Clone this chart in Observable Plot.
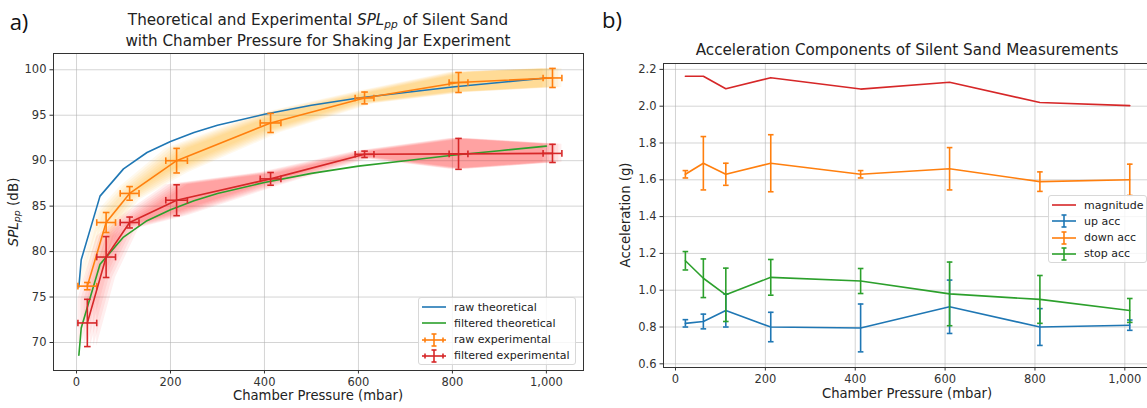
<!DOCTYPE html>
<html>
<head>
<meta charset="utf-8">
<script src="https://cdn.jsdelivr.net/npm/d3@7"></script>
<script src="https://cdn.jsdelivr.net/npm/@observablehq/plot@0.6"></script>
<style>
  html, body { margin: 0; padding: 0; background: #fff; }
  body { width: 1147px; height: 408px; overflow: hidden; position: relative;
         font-family: "DejaVu Sans", sans-serif; color: #222; }
  .abs { position: absolute; white-space: nowrap; line-height: 1; }
  .c { transform: translate(-50%, -50%); }
  .rot { transform: translate(-50%, -50%) rotate(-90deg); }
  .legend { position: absolute; background: rgba(255,255,255,0.8); border: 1px solid #d8d8d8;
            border-radius: 3px; box-sizing: border-box; }
  .legend .row { position: absolute; left: 0; display: flex; align-items: center; font-size: 11px; color: #222; white-space: nowrap; }
  .legend svg { display: block; }
  sub { font-size: 0.7em; vertical-align: -0.25em; }
</style>
</head>
<body>
<script>
// ---- SPL_pp vs chamber pressure (panel a) ----
const pressureTheory = [5, 10, 50, 100, 150, 200, 250, 300, 400, 500, 600, 700, 800, 900, 1000];
const rawTheory      = [76.1, 79.1, 86.1, 89.1, 90.9, 92.1, 93.1, 93.9, 95.1, 96.1, 96.9, 97.5, 98.1, 98.6, 99.1];
const filteredTheory = [68.6, 71.6, 78.6, 81.6, 83.4, 84.6, 85.6, 86.4, 87.6, 88.6, 89.4, 90.0, 90.6, 91.1, 91.6];

const pressureExp    = [23, 63, 113, 213, 413, 613, 813, 1013];
const pressureErr    = [20, 20, 20, 23, 22, 20, 20, 20];
const rawExp         = [76.2, 83.2, 86.4, 90.0, 94.15, 96.9, 98.6, 99.1];
const rawExpErr      = [0.4, 1.1, 0.75, 1.35, 1.05, 0.65, 1.1, 1.05];
const filteredExp    = [72.15, 79.4, 83.2, 85.65, 88.0, 90.7, 90.75, 90.8];
const filteredExpErr = [2.6, 2.25, 0.6, 1.7, 0.7, 0.35, 1.7, 1.0];

// ---- acceleration components (panel b) ----
const pressureAcc = [22, 62, 112, 212, 412, 610, 811, 1011];
const magnitude   = [2.163, 2.163, 2.095, 2.155, 2.093, 2.13, 2.02, 2.003];
const upAcc       = [0.82, 0.83, 0.89, 0.80, 0.795, 0.91, 0.80, 0.81];
const upErr       = [0.02, 0.04, 0.09, 0.08, 0.13, 0.145, 0.10, 0.028];
const downAcc     = [1.63, 1.69, 1.63, 1.69, 1.63, 1.66, 1.59, 1.60];
const downErr     = [0.02, 0.145, 0.06, 0.155, 0.02, 0.115, 0.053, 0.085];
const stopAcc     = [1.16, 1.065, 0.975, 1.07, 1.05, 0.98, 0.95, 0.89];
const stopErr     = [0.05, 0.105, 0.145, 0.097, 0.068, 0.173, 0.13, 0.065];

const pressureTicks = [0, 200, 400, 600, 800, 1000];
const splTicks = [70, 75, 80, 85, 90, 95, 100];
const accTicks = [0.6, 0.8, 1.0, 1.2, 1.4, 1.6, 1.8, 2.0, 2.2];

const C = { blue: "#1f77b4", orange: "#ff7f0e", green: "#2ca02c", red: "#d62728" };

// short line glyphs used as error-bar caps
const hCap = { draw(ctx, size) { const r = Math.sqrt(size / Math.PI); ctx.moveTo(-r, 0); ctx.lineTo(r, 0); } };
const vCap = { draw(ctx, size) { const r = Math.sqrt(size / Math.PI); ctx.moveTo(0, -r); ctx.lineTo(0, r); } };

const theory = pressureTheory.map((p, i) => ({ p, raw: rawTheory[i], filt: filteredTheory[i] }));
const rows = (xs, ys, es, xes) => xs.map((x, i) => ({ x, y: ys[i], e: es[i], xe: xes ? xes[i] : 0 }));
const rawRows = rows(pressureExp, rawExp, rawExpErr, pressureErr);
const filtRows = rows(pressureExp, filteredExp, filteredExpErr, pressureErr);

function errorMarks(data, color, { xErr = false, cap = 3, sw = 1.6 } = {}) {
  const st = { stroke: color, strokeWidth: sw };
  const m = [
    Plot.line(data, { x: "x", y: "y", ...st }),
    Plot.ruleX(data, { x: "x", y1: d => d.y - d.e, y2: d => d.y + d.e, ...st }),
    Plot.dot(data, { x: "x", y: d => d.y - d.e, symbol: hCap, r: cap, fill: "none", ...st }),
    Plot.dot(data, { x: "x", y: d => d.y + d.e, symbol: hCap, r: cap, fill: "none", ...st })
  ];
  if (xErr) {
    m.push(
      Plot.ruleY(data, { y: "y", x1: d => d.x - d.xe, x2: d => d.x + d.xe, ...st }),
      Plot.dot(data, { x: d => d.x - d.xe, y: "y", symbol: vCap, r: cap, fill: "none", ...st }),
      Plot.dot(data, { x: d => d.x + d.xe, y: "y", symbol: vCap, r: cap, fill: "none", ...st })
    );
  }
  return m;
}

// uncertainty ribbon: stacked translucent bands shifted across the pressure error
function band(data, color) {
  return [-1, -0.67, -0.33, 0, 0.33, 0.67, 1].map(f =>
    Plot.areaY(data, { x: d => d.x + f * d.xe, y1: d => d.y - d.e, y2: d => d.y + d.e,
                       fill: color, fillOpacity: 0.07 }));
}

const gridStyle = { stroke: "#b0b0b0", strokeOpacity: 0.55, strokeWidth: 1 };
const axisStyle = { tickSize: 3.5, tickPadding: 3.5, fontSize: 11.5, label: null, stroke: "#333" };

const left = Plot.plot({
  width: 590, height: 408,
  marginLeft: 53, marginRight: 7, marginTop: 53, marginBottom: 38,
  x: { domain: [-49, 1079] },
  y: { domain: [66.92, 101.79] },
  style: { fontFamily: "DejaVu Sans", color: "#333", background: "transparent", overflow: "visible" },
  marks: [
    Plot.gridX(pressureTicks, gridStyle),
    Plot.gridY(splTicks, gridStyle),
    ...band(rawRows, "#ffa500"),
    ...band(filtRows, "#ff1a1a"),
    Plot.line(theory, { x: "p", y: "raw", stroke: C.blue, strokeWidth: 1.6 }),
    Plot.line(theory, { x: "p", y: "filt", stroke: C.green, strokeWidth: 1.6 }),
    ...errorMarks(rawRows, C.orange, { xErr: true, cap: 3.3 }),
    ...errorMarks(filtRows, C.red, { xErr: true, cap: 3.3 }),
    Plot.axisX(pressureTicks, axisStyle),
    Plot.axisY(splTicks, axisStyle),
    Plot.frame({ stroke: "#333", strokeWidth: 1 })
  ]
});

const right = Plot.plot({
  width: 563, height: 408,
  marginLeft: 73, marginRight: 1, marginTop: 63, marginBottom: 41,
  x: { domain: [-26.7, 1061.6] },
  y: { domain: [0.58, 2.232] },
  style: { fontFamily: "DejaVu Sans", color: "#333", background: "transparent" },
  marks: [
    Plot.gridX(pressureTicks, gridStyle),
    Plot.gridY(accTicks, gridStyle),
    Plot.line(pressureAcc.map((x, i) => ({ x, y: magnitude[i] })), { x: "x", y: "y", stroke: C.red, strokeWidth: 1.6 }),
    ...errorMarks(rows(pressureAcc, upAcc, upErr), C.blue, { cap: 2.8 }),
    ...errorMarks(rows(pressureAcc, downAcc, downErr), C.orange, { cap: 2.8 }),
    ...errorMarks(rows(pressureAcc, stopAcc, stopErr), C.green, { cap: 2.8 }),
    Plot.axisX(pressureTicks, axisStyle),
    Plot.axisY(accTicks, { ...axisStyle, tickFormat: d3.format(".1f") }),
    Plot.frame({ stroke: "#333", strokeWidth: 1 })
  ]
});

function put(el, x, y) {
  el.style.position = "absolute"; el.style.left = x + "px"; el.style.top = y + "px";
  document.body.appendChild(el);
}
put(left, 0, 0);
put(right, 590, 0);

function text(html, x, y, size, cls = "c", extra = "") {
  const d = document.createElement("div");
  d.className = "abs " + cls;
  d.innerHTML = html;
  d.style.cssText += `left:${x}px;top:${y}px;font-size:${size}px;${extra}`;
  document.body.appendChild(d);
  return d;
}

// panel letters
text("a)", 19, 21, 22, "c", "font-family:'Open Sans',sans-serif;color:#111;");
text("b)", 612, 19, 22, "c", "font-family:'Open Sans',sans-serif;color:#111;");

// titles
text("Theoretical and Experimental <i>SPL<sub>pp</sub></i> of Silent Sand", 318, 22, 15.2);
text("with Chamber Pressure for Shaking Jar Experiment", 318, 42, 15.2);
text("Acceleration Components of Silent Sand Measurements", 907, 51, 15.2);

// axis labels
text("Chamber Pressure (mbar)", 318, 396, 13.2);
text("Chamber Pressure (mbar)", 907, 394, 13.2);
text("<i>SPL<sub>pp</sub></i> (dB)", 14, 212, 13.5, "rot");
text("Acceleration (g)", 626, 215, 13.2, "rot");

// legends
function icon(color, kind) {
  const s = d3.create("svg").attr("width", 24).attr("height", 14);
  const g = s.append("g").attr("stroke", color).attr("stroke-width", 1.6).attr("fill", "none");
  g.append("line").attr("x1", 0).attr("x2", 24).attr("y1", 7).attr("y2", 7);
  if (kind !== "line") {
    g.append("line").attr("x1", 12).attr("x2", 12).attr("y1", 1).attr("y2", 13);
    g.append("line").attr("x1", 9.5).attr("x2", 14.5).attr("y1", 1).attr("y2", 1);
    g.append("line").attr("x1", 9.5).attr("x2", 14.5).attr("y1", 13).attr("y2", 13);
  }
  if (kind === "xy") {
    g.append("line").attr("x1", 3).attr("x2", 3).attr("y1", 4.5).attr("y2", 9.5);
    g.append("line").attr("x1", 21).attr("x2", 21).attr("y1", 4.5).attr("y2", 9.5);
  }
  return s.node();
}
function legend(x, y, w, h, items, rowY0, rowStep) {
  const box = document.createElement("div");
  box.className = "legend";
  box.style.cssText = `left:${x}px;top:${y}px;width:${w}px;height:${h}px;`;
  items.forEach(([label, color, kind], i) => {
    const r = document.createElement("div");
    r.className = "row";
    r.style.top = (rowY0 + i * rowStep - 7) + "px";
    r.style.left = "3px";
    r.appendChild(icon(color, kind));
    const t = document.createElement("span");
    t.textContent = label;
    t.style.marginLeft = "8px";
    r.appendChild(t);
    box.appendChild(r);
  });
  document.body.appendChild(box);
}
legend(418, 297, 158, 68, [
  ["raw theoretical", C.blue, "line"],
  ["filtered theoretical", C.green, "line"],
  ["raw experimental", C.orange, "xy"],
  ["filtered experimental", C.red, "xy"]
], 9, 16.3);
legend(1048, 195, 99, 68, [
  ["magnitude", C.red, "line"],
  ["up acc", C.blue, "y"],
  ["down acc", C.orange, "y"],
  ["stop acc", C.green, "y"]
], 9, 16.3);
</script>
</body>
</html>
